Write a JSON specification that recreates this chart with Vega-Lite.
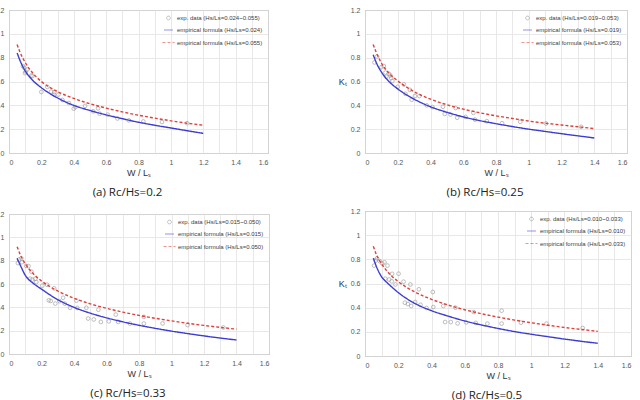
{
  "$schema": "https://vega.github.io/schema/vega-lite/v6.json",
  "padding": {"left": -7, "top": 5, "right": 4, "bottom": 4},
  "background": "white",
  "config": {
    "view": {"stroke": "#9a9a9a", "strokeWidth": 1},
    "axis": {"labelFont": "Liberation Sans", "labelFontSize": 7, "labelColor": "#555555", "titleFont": "Liberation Sans", "titleFontSize": 9, "titleFontWeight": "normal", "titleColor": "#333333", "ticks": false, "domain": false, "gridColor": "#e2e2e2", "gridWidth": 0.8, "labelPadding": 5},
    "axisX": {"titlePadding": 3},
    "axisY": {"titlePadding": 4},
    "legend": {"orient": "top-right", "offset": 5, "padding": 0, "labelFont": "Liberation Sans", "labelFontSize": 6, "labelColor": "#404040", "rowPadding": 3, "symbolSize": 144, "labelOffset": 2},
    "title": {"font": "Open Sans", "fontSize": 11.5, "fontWeight": "normal", "color": "#222222", "offset": 10},
    "point": {"size": 18, "strokeWidth": 0.8},
    "line": {"strokeWidth": 1.4, "interpolate": "monotone"}
  },
  "datasets": {
    "a_pts": [
      {"s":"exp","x":0.086,"y":0.73},{"s":"exp","x":0.093,"y":0.716},{"s":"exp","x":0.099,"y":0.67},{"s":"exp","x":0.103,"y":0.683},{"s":"exp","x":0.113,"y":0.70},{"s":"exp","x":0.138,"y":0.65},{"s":"exp","x":0.145,"y":0.645},{"s":"exp","x":0.20,"y":0.512},{"s":"exp","x":0.237,"y":0.555},{"s":"exp","x":0.26,"y":0.515},{"s":"exp","x":0.278,"y":0.49},{"s":"exp","x":0.28,"y":0.51},{"s":"exp","x":0.305,"y":0.49},{"s":"exp","x":0.33,"y":0.445},{"s":"exp","x":0.37,"y":0.42},{"s":"exp","x":0.40,"y":0.372},{"s":"exp","x":0.41,"y":0.385},{"s":"exp","x":0.47,"y":0.395},{"s":"exp","x":0.52,"y":0.35},{"s":"exp","x":0.55,"y":0.375},{"s":"exp","x":0.56,"y":0.33},{"s":"exp","x":0.61,"y":0.322},{"s":"exp","x":0.67,"y":0.29},{"s":"exp","x":0.74,"y":0.274},{"s":"exp","x":0.83,"y":0.265},{"s":"exp","x":0.945,"y":0.26},{"s":"exp","x":1.10,"y":0.25}
    ],
    "a_lines": [
      {"s":"lo","x":0.05,"y":0.84},{"s":"lo","x":0.07,"y":0.77},{"s":"lo","x":0.1,"y":0.69},{"s":"lo","x":0.15,"y":0.605},{"s":"lo","x":0.2,"y":0.548},{"s":"lo","x":0.3,"y":0.462},{"s":"lo","x":0.4,"y":0.40},{"s":"lo","x":0.5,"y":0.357},{"s":"lo","x":0.6,"y":0.32},{"s":"lo","x":0.7,"y":0.288},{"s":"lo","x":0.8,"y":0.258},{"s":"lo","x":0.9,"y":0.233},{"s":"lo","x":1.0,"y":0.21},{"s":"lo","x":1.1,"y":0.187},{"s":"lo","x":1.2,"y":0.165},
      {"s":"hi","x":0.05,"y":0.91},{"s":"hi","x":0.07,"y":0.84},{"s":"hi","x":0.1,"y":0.76},{"s":"hi","x":0.15,"y":0.665},{"s":"hi","x":0.2,"y":0.60},{"s":"hi","x":0.3,"y":0.515},{"s":"hi","x":0.4,"y":0.458},{"s":"hi","x":0.5,"y":0.413},{"s":"hi","x":0.6,"y":0.377},{"s":"hi","x":0.7,"y":0.345},{"s":"hi","x":0.8,"y":0.317},{"s":"hi","x":0.9,"y":0.293},{"s":"hi","x":1.0,"y":0.27},{"s":"hi","x":1.1,"y":0.25},{"s":"hi","x":1.2,"y":0.233}
    ],
    "b_pts": [
      {"s":"exp","x":0.058,"y":0.76},{"s":"exp","x":0.074,"y":0.81},{"s":"exp","x":0.10,"y":0.72},{"s":"exp","x":0.115,"y":0.73},{"s":"exp","x":0.125,"y":0.675},{"s":"exp","x":0.13,"y":0.64},{"s":"exp","x":0.146,"y":0.665},{"s":"exp","x":0.155,"y":0.65},{"s":"exp","x":0.16,"y":0.628},{"s":"exp","x":0.167,"y":0.605},{"s":"exp","x":0.20,"y":0.555},{"s":"exp","x":0.237,"y":0.576},{"s":"exp","x":0.247,"y":0.497},{"s":"exp","x":0.274,"y":0.53},{"s":"exp","x":0.285,"y":0.447},{"s":"exp","x":0.305,"y":0.478},{"s":"exp","x":0.332,"y":0.478},{"s":"exp","x":0.377,"y":0.40},{"s":"exp","x":0.412,"y":0.385},{"s":"exp","x":0.476,"y":0.388},{"s":"exp","x":0.487,"y":0.328},{"s":"exp","x":0.522,"y":0.323},{"s":"exp","x":0.553,"y":0.378},{"s":"exp","x":0.563,"y":0.296},{"s":"exp","x":0.614,"y":0.303},{"s":"exp","x":0.662,"y":0.337},{"s":"exp","x":0.672,"y":0.28},{"s":"exp","x":0.744,"y":0.267},{"s":"exp","x":0.837,"y":0.25},{"s":"exp","x":0.948,"y":0.262},{"s":"exp","x":1.105,"y":0.248},{"s":"exp","x":1.32,"y":0.22}
    ],
    "b_lines": [
      {"s":"lo","x":0.05,"y":0.825},{"s":"lo","x":0.07,"y":0.755},{"s":"lo","x":0.1,"y":0.68},{"s":"lo","x":0.15,"y":0.595},{"s":"lo","x":0.2,"y":0.538},{"s":"lo","x":0.3,"y":0.452},{"s":"lo","x":0.4,"y":0.388},{"s":"lo","x":0.5,"y":0.342},{"s":"lo","x":0.6,"y":0.303},{"s":"lo","x":0.7,"y":0.272},{"s":"lo","x":0.8,"y":0.246},{"s":"lo","x":0.9,"y":0.222},{"s":"lo","x":1.0,"y":0.2},{"s":"lo","x":1.1,"y":0.181},{"s":"lo","x":1.2,"y":0.162},{"s":"lo","x":1.3,"y":0.144},{"s":"lo","x":1.4,"y":0.126},
      {"s":"hi","x":0.05,"y":0.91},{"s":"hi","x":0.07,"y":0.84},{"s":"hi","x":0.1,"y":0.755},{"s":"hi","x":0.15,"y":0.665},{"s":"hi","x":0.2,"y":0.605},{"s":"hi","x":0.3,"y":0.515},{"s":"hi","x":0.4,"y":0.452},{"s":"hi","x":0.5,"y":0.405},{"s":"hi","x":0.6,"y":0.368},{"s":"hi","x":0.7,"y":0.338},{"s":"hi","x":0.8,"y":0.312},{"s":"hi","x":0.9,"y":0.29},{"s":"hi","x":1.0,"y":0.268},{"s":"hi","x":1.1,"y":0.25},{"s":"hi","x":1.2,"y":0.235},{"s":"hi","x":1.3,"y":0.22},{"s":"hi","x":1.4,"y":0.205}
    ],
    "c_pts": [
      {"s":"exp","x":0.055,"y":0.779},{"s":"exp","x":0.062,"y":0.81},{"s":"exp","x":0.076,"y":0.82},{"s":"exp","x":0.08,"y":0.787},{"s":"exp","x":0.105,"y":0.755},{"s":"exp","x":0.12,"y":0.753},{"s":"exp","x":0.138,"y":0.705},{"s":"exp","x":0.13,"y":0.645},{"s":"exp","x":0.144,"y":0.638},{"s":"exp","x":0.162,"y":0.645},{"s":"exp","x":0.168,"y":0.617},{"s":"exp","x":0.205,"y":0.585},{"s":"exp","x":0.234,"y":0.594},{"s":"exp","x":0.245,"y":0.46},{"s":"exp","x":0.257,"y":0.455},{"s":"exp","x":0.278,"y":0.563},{"s":"exp","x":0.285,"y":0.432},{"s":"exp","x":0.31,"y":0.453},{"s":"exp","x":0.333,"y":0.482},{"s":"exp","x":0.343,"y":0.432},{"s":"exp","x":0.376,"y":0.396},{"s":"exp","x":0.415,"y":0.457},{"s":"exp","x":0.42,"y":0.395},{"s":"exp","x":0.476,"y":0.396},{"s":"exp","x":0.487,"y":0.304},{"s":"exp","x":0.522,"y":0.296},{"s":"exp","x":0.55,"y":0.38},{"s":"exp","x":0.565,"y":0.275},{"s":"exp","x":0.614,"y":0.28},{"s":"exp","x":0.657,"y":0.338},{"s":"exp","x":0.672,"y":0.275},{"s":"exp","x":0.744,"y":0.261},{"s":"exp","x":0.83,"y":0.318},{"s":"exp","x":0.83,"y":0.261},{"s":"exp","x":0.945,"y":0.262},{"s":"exp","x":1.099,"y":0.248},{"s":"exp","x":1.319,"y":0.227}
    ],
    "c_lines": [
      {"s":"lo","x":0.05,"y":0.82},{"s":"lo","x":0.075,"y":0.745},{"s":"lo","x":0.1,"y":0.675},{"s":"lo","x":0.12,"y":0.64},{"s":"lo","x":0.15,"y":0.605},{"s":"lo","x":0.2,"y":0.556},{"s":"lo","x":0.3,"y":0.466},{"s":"lo","x":0.4,"y":0.4},{"s":"lo","x":0.5,"y":0.35},{"s":"lo","x":0.6,"y":0.31},{"s":"lo","x":0.7,"y":0.276},{"s":"lo","x":0.8,"y":0.246},{"s":"lo","x":0.9,"y":0.22},{"s":"lo","x":1.0,"y":0.196},{"s":"lo","x":1.1,"y":0.175},{"s":"lo","x":1.2,"y":0.155},{"s":"lo","x":1.3,"y":0.137},{"s":"lo","x":1.4,"y":0.12},
      {"s":"hi","x":0.05,"y":0.92},{"s":"hi","x":0.07,"y":0.85},{"s":"hi","x":0.1,"y":0.773},{"s":"hi","x":0.15,"y":0.687},{"s":"hi","x":0.2,"y":0.626},{"s":"hi","x":0.3,"y":0.54},{"s":"hi","x":0.4,"y":0.478},{"s":"hi","x":0.5,"y":0.43},{"s":"hi","x":0.6,"y":0.392},{"s":"hi","x":0.7,"y":0.359},{"s":"hi","x":0.8,"y":0.331},{"s":"hi","x":0.9,"y":0.306},{"s":"hi","x":1.0,"y":0.284},{"s":"hi","x":1.1,"y":0.263},{"s":"hi","x":1.2,"y":0.245},{"s":"hi","x":1.3,"y":0.228},{"s":"hi","x":1.4,"y":0.213}
    ],
    "d_pts": [
      {"s":"exp","x":0.055,"y":0.748},{"s":"exp","x":0.065,"y":0.79},{"s":"exp","x":0.072,"y":0.808},{"s":"exp","x":0.088,"y":0.785},{"s":"exp","x":0.104,"y":0.765},{"s":"exp","x":0.117,"y":0.775},{"s":"exp","x":0.135,"y":0.748},{"s":"exp","x":0.122,"y":0.64},{"s":"exp","x":0.145,"y":0.633},{"s":"exp","x":0.163,"y":0.68},{"s":"exp","x":0.161,"y":0.618},{"s":"exp","x":0.183,"y":0.592},{"s":"exp","x":0.202,"y":0.681},{"s":"exp","x":0.232,"y":0.615},{"s":"exp","x":0.273,"y":0.592},{"s":"exp","x":0.24,"y":0.441},{"s":"exp","x":0.258,"y":0.43},{"s":"exp","x":0.278,"y":0.414},{"s":"exp","x":0.302,"y":0.447},{"s":"exp","x":0.324,"y":0.552},{"s":"exp","x":0.334,"y":0.424},{"s":"exp","x":0.37,"y":0.398},{"s":"exp","x":0.408,"y":0.53},{"s":"exp","x":0.411,"y":0.405},{"s":"exp","x":0.471,"y":0.414},{"s":"exp","x":0.482,"y":0.281},{"s":"exp","x":0.516,"y":0.281},{"s":"exp","x":0.544,"y":0.40},{"s":"exp","x":0.557,"y":0.27},{"s":"exp","x":0.609,"y":0.278},{"s":"exp","x":0.654,"y":0.364},{"s":"exp","x":0.666,"y":0.274},{"s":"exp","x":0.736,"y":0.268},{"s":"exp","x":0.822,"y":0.375},{"s":"exp","x":0.822,"y":0.268},{"s":"exp","x":0.938,"y":0.276},{"s":"exp","x":1.092,"y":0.268},{"s":"exp","x":1.309,"y":0.232}
    ],
    "d_lines": [
      {"s":"lo","x":0.05,"y":0.81},{"s":"lo","x":0.075,"y":0.72},{"s":"lo","x":0.1,"y":0.655},{"s":"lo","x":0.13,"y":0.61},{"s":"lo","x":0.15,"y":0.585},{"s":"lo","x":0.2,"y":0.525},{"s":"lo","x":0.3,"y":0.435},{"s":"lo","x":0.4,"y":0.375},{"s":"lo","x":0.5,"y":0.33},{"s":"lo","x":0.6,"y":0.29},{"s":"lo","x":0.7,"y":0.257},{"s":"lo","x":0.8,"y":0.228},{"s":"lo","x":0.9,"y":0.202},{"s":"lo","x":1.0,"y":0.18},{"s":"lo","x":1.1,"y":0.16},{"s":"lo","x":1.2,"y":0.14},{"s":"lo","x":1.3,"y":0.122},{"s":"lo","x":1.4,"y":0.105},
      {"s":"hi","x":0.05,"y":0.908},{"s":"hi","x":0.07,"y":0.835},{"s":"hi","x":0.1,"y":0.763},{"s":"hi","x":0.15,"y":0.676},{"s":"hi","x":0.2,"y":0.616},{"s":"hi","x":0.3,"y":0.53},{"s":"hi","x":0.4,"y":0.469},{"s":"hi","x":0.5,"y":0.422},{"s":"hi","x":0.6,"y":0.383},{"s":"hi","x":0.7,"y":0.35},{"s":"hi","x":0.8,"y":0.322},{"s":"hi","x":0.9,"y":0.297},{"s":"hi","x":1.0,"y":0.275},{"s":"hi","x":1.1,"y":0.255},{"s":"hi","x":1.2,"y":0.236},{"s":"hi","x":1.3,"y":0.22},{"s":"hi","x":1.4,"y":0.204}
    ]
  },
  "resolve": {"scale": {"color": "independent", "strokeDash": "independent", "shape": "independent", "size": "independent"}, "legend": {"color": "independent", "shape": "independent", "size": "independent", "strokeDash": "independent"}},
  "spacing": 67,
  "hconcat": [
    {
      "spacing": 10,
      "resolve": {"scale": {"color": "independent", "strokeDash": "independent", "shape": "independent", "size": "independent"}, "legend": {"color": "independent", "shape": "independent", "size": "independent", "strokeDash": "independent"}},
      "vconcat": [
        {
          "width": 259, "height": 143,
          "title": {"text": "(a) Rc/Hs=0.2", "orient": "bottom", "dx": -11},
          "encoding": {
            "x": {"field": "x", "type": "quantitative", "scale": {"domain": [0, 1.6], "nice": false}, "axis": {"title": "W / Lₛ", "values": [0,0.1,0.2,0.3,0.4,0.5,0.6,0.7,0.8,0.9,1,1.1,1.2,1.3,1.4,1.5,1.6], "labelExpr": "round(datum.value*10)%2==0 ? format(datum.value,'~g') : ''", "labelOverlap": false}},
            "y": {"field": "y", "type": "quantitative", "scale": {"domain": [0, 1.2], "nice": false}, "axis": {"title": null, "values": [0,0.2,0.4,0.6,0.8,1,1.2], "format": "~g"}}
          },
          "layer": [
            {"data": {"name": "a_pts"}, "mark": {"type": "point", "filled": false},
             "encoding": {
               "color": {"field": "s", "type": "nominal", "scale": {"domain": ["exp","lo","hi"], "range": ["#8c8c8c","#3c3cd2","#e0403a"]},
                 "legend": {"title": null, "labelExpr": "datum.value=='exp' ? 'exp. data (Hs/Ls=0.024~0.055)' : datum.value=='lo' ? 'empirical formula (Hs/Ls=0.024)' : 'empirical formula (Hs/Ls=0.055)'"}},
               "shape": {"field": "s", "type": "nominal", "scale": {"domain": ["exp","lo","hi"], "range": ["circle","stroke","stroke"]},
                 "legend": {"title": null, "labelExpr": "datum.value=='exp' ? 'exp. data (Hs/Ls=0.024~0.055)' : datum.value=='lo' ? 'empirical formula (Hs/Ls=0.024)' : 'empirical formula (Hs/Ls=0.055)'"}},
               "size": {"field": "s", "type": "ordinal", "scale": {"domain": ["exp","lo","hi"], "range": [14,144,144]},
                 "legend": {"title": null, "labelExpr": "datum.value=='exp' ? 'exp. data (Hs/Ls=0.024~0.055)' : datum.value=='lo' ? 'empirical formula (Hs/Ls=0.024)' : 'empirical formula (Hs/Ls=0.055)'"}}
             }},
            {"data": {"name": "a_lines"}, "mark": {"type": "line"},
             "encoding": {"color": {"field": "s", "type": "nominal"},
               "strokeDash": {"field": "s", "type": "nominal", "scale": {"domain": ["exp","lo","hi"], "range": [[1,0],[1,0],[3,2]]},
                 "legend": {"title": null, "labelExpr": "datum.value=='exp' ? 'exp. data (Hs/Ls=0.024~0.055)' : datum.value=='lo' ? 'empirical formula (Hs/Ls=0.024)' : 'empirical formula (Hs/Ls=0.055)'"}}}}
          ]
        },
        {
          "width": 260, "height": 140,
          "title": {"text": "(c) Rc/Hs=0.33", "orient": "bottom", "dx": -11},
          "encoding": {
            "x": {"field": "x", "type": "quantitative", "scale": {"domain": [0, 1.6], "nice": false}, "axis": {"title": "W / Lₛ", "values": [0,0.1,0.2,0.3,0.4,0.5,0.6,0.7,0.8,0.9,1,1.1,1.2,1.3,1.4,1.5,1.6], "labelExpr": "round(datum.value*10)%2==0 ? format(datum.value,'~g') : ''", "labelOverlap": false}},
            "y": {"field": "y", "type": "quantitative", "scale": {"domain": [0, 1.2], "nice": false}, "axis": {"title": null, "values": [0,0.2,0.4,0.6,0.8,1,1.2], "format": "~g"}}
          },
          "layer": [
            {"data": {"name": "c_pts"}, "mark": {"type": "point", "filled": false},
             "encoding": {
               "color": {"field": "s", "type": "nominal", "scale": {"domain": ["exp","lo","hi"], "range": ["#8c8c8c","#3c3cd2","#e0403a"]},
                 "legend": {"title": null, "labelExpr": "datum.value=='exp' ? 'exp. data (Hs/Ls=0.015~0.050)' : datum.value=='lo' ? 'empirical formula (Hs/Ls=0.015)' : 'empirical formula (Hs/Ls=0.050)'"}},
               "shape": {"field": "s", "type": "nominal", "scale": {"domain": ["exp","lo","hi"], "range": ["circle","stroke","stroke"]},
                 "legend": {"title": null, "labelExpr": "datum.value=='exp' ? 'exp. data (Hs/Ls=0.015~0.050)' : datum.value=='lo' ? 'empirical formula (Hs/Ls=0.015)' : 'empirical formula (Hs/Ls=0.050)'"}},
               "size": {"field": "s", "type": "ordinal", "scale": {"domain": ["exp","lo","hi"], "range": [14,144,144]},
                 "legend": {"title": null, "labelExpr": "datum.value=='exp' ? 'exp. data (Hs/Ls=0.015~0.050)' : datum.value=='lo' ? 'empirical formula (Hs/Ls=0.015)' : 'empirical formula (Hs/Ls=0.050)'"}}
             }},
            {"data": {"name": "c_lines"}, "mark": {"type": "line"},
             "encoding": {"color": {"field": "s", "type": "nominal"},
               "strokeDash": {"field": "s", "type": "nominal", "scale": {"domain": ["exp","lo","hi"], "range": [[1,0],[1,0],[3,2]]},
                 "legend": {"title": null, "labelExpr": "datum.value=='exp' ? 'exp. data (Hs/Ls=0.015~0.050)' : datum.value=='lo' ? 'empirical formula (Hs/Ls=0.015)' : 'empirical formula (Hs/Ls=0.050)'"}}}}
          ]
        }
      ]
    },
    {
      "spacing": 7,
      "resolve": {"scale": {"color": "independent", "strokeDash": "independent", "shape": "independent", "size": "independent"}, "legend": {"color": "independent", "shape": "independent", "size": "independent", "strokeDash": "independent"}},
      "vconcat": [
        {
          "width": 262, "height": 143,
          "title": {"text": "(b) Rc/Hs=0.25", "orient": "bottom", "dx": -11},
          "encoding": {
            "x": {"field": "x", "type": "quantitative", "scale": {"domain": [0, 1.6], "nice": false}, "axis": {"title": "W / Lₛ", "values": [0,0.1,0.2,0.3,0.4,0.5,0.6,0.7,0.8,0.9,1,1.1,1.2,1.3,1.4,1.5,1.6], "labelExpr": "round(datum.value*10)%2==0 ? format(datum.value,'~g') : ''", "labelOverlap": false}},
            "y": {"field": "y", "type": "quantitative", "scale": {"domain": [0, 1.2], "nice": false}, "axis": {"title": "Kₜ", "titleAngle": 0, "titleAlign": "right", "titleBaseline": "middle", "values": [0,0.2,0.4,0.6,0.8,1,1.2], "format": "~g"}}
          },
          "layer": [
            {"data": {"name": "b_pts"}, "mark": {"type": "point", "filled": false},
             "encoding": {
               "color": {"field": "s", "type": "nominal", "scale": {"domain": ["exp","lo","hi"], "range": ["#8c8c8c","#3c3cd2","#e0403a"]},
                 "legend": {"title": null, "labelExpr": "datum.value=='exp' ? 'exp. data (Hs/Ls=0.019~0.053)' : datum.value=='lo' ? 'empirical formula (Hs/Ls=0.019)' : 'empirical formula (Hs/Ls=0.053)'"}},
               "shape": {"field": "s", "type": "nominal", "scale": {"domain": ["exp","lo","hi"], "range": ["circle","stroke","stroke"]},
                 "legend": {"title": null, "labelExpr": "datum.value=='exp' ? 'exp. data (Hs/Ls=0.019~0.053)' : datum.value=='lo' ? 'empirical formula (Hs/Ls=0.019)' : 'empirical formula (Hs/Ls=0.053)'"}},
               "size": {"field": "s", "type": "ordinal", "scale": {"domain": ["exp","lo","hi"], "range": [14,144,144]},
                 "legend": {"title": null, "labelExpr": "datum.value=='exp' ? 'exp. data (Hs/Ls=0.019~0.053)' : datum.value=='lo' ? 'empirical formula (Hs/Ls=0.019)' : 'empirical formula (Hs/Ls=0.053)'"}}
             }},
            {"data": {"name": "b_lines"}, "mark": {"type": "line"},
             "encoding": {"color": {"field": "s", "type": "nominal"},
               "strokeDash": {"field": "s", "type": "nominal", "scale": {"domain": ["exp","lo","hi"], "range": [[1,0],[1,0],[3,2]]},
                 "legend": {"title": null, "labelExpr": "datum.value=='exp' ? 'exp. data (Hs/Ls=0.019~0.053)' : datum.value=='lo' ? 'empirical formula (Hs/Ls=0.019)' : 'empirical formula (Hs/Ls=0.053)'"}}}}
          ]
        },
        {
          "width": 266, "height": 145,
          "title": {"text": "(d) Rc/Hs=0.5", "orient": "bottom", "dx": -11},
          "encoding": {
            "x": {"field": "x", "type": "quantitative", "scale": {"domain": [0, 1.6], "nice": false}, "axis": {"title": "W / Lₛ", "values": [0,0.1,0.2,0.3,0.4,0.5,0.6,0.7,0.8,0.9,1,1.1,1.2,1.3,1.4,1.5,1.6], "labelExpr": "round(datum.value*10)%2==0 ? format(datum.value,'~g') : ''", "labelOverlap": false}},
            "y": {"field": "y", "type": "quantitative", "scale": {"domain": [0, 1.2], "nice": false}, "axis": {"title": "Kₜ", "titleAngle": 0, "titleAlign": "right", "titleBaseline": "middle", "values": [0,0.2,0.4,0.6,0.8,1,1.2], "format": "~g"}}
          },
          "layer": [
            {"data": {"name": "d_pts"}, "mark": {"type": "point", "filled": false},
             "encoding": {
               "color": {"field": "s", "type": "nominal", "scale": {"domain": ["exp","lo","hi"], "range": ["#8c8c8c","#3c3cd2","#e0403a"]},
                 "legend": {"title": null, "labelExpr": "datum.value=='exp' ? 'exp. data (Hs/Ls=0.010~0.033)' : datum.value=='lo' ? 'empirical formula (Hs/Ls=0.010)' : 'empirical formula (Hs/Ls=0.033)'"}},
               "shape": {"field": "s", "type": "nominal", "scale": {"domain": ["exp","lo","hi"], "range": ["circle","stroke","stroke"]},
                 "legend": {"title": null, "labelExpr": "datum.value=='exp' ? 'exp. data (Hs/Ls=0.010~0.033)' : datum.value=='lo' ? 'empirical formula (Hs/Ls=0.010)' : 'empirical formula (Hs/Ls=0.033)'"}},
               "size": {"field": "s", "type": "ordinal", "scale": {"domain": ["exp","lo","hi"], "range": [14,144,144]},
                 "legend": {"title": null, "labelExpr": "datum.value=='exp' ? 'exp. data (Hs/Ls=0.010~0.033)' : datum.value=='lo' ? 'empirical formula (Hs/Ls=0.010)' : 'empirical formula (Hs/Ls=0.033)'"}}
             }},
            {"data": {"name": "d_lines"}, "mark": {"type": "line"},
             "encoding": {"color": {"field": "s", "type": "nominal"},
               "strokeDash": {"field": "s", "type": "nominal", "scale": {"domain": ["exp","lo","hi"], "range": [[1,0],[1,0],[3,2]]},
                 "legend": {"title": null, "labelExpr": "datum.value=='exp' ? 'exp. data (Hs/Ls=0.010~0.033)' : datum.value=='lo' ? 'empirical formula (Hs/Ls=0.010)' : 'empirical formula (Hs/Ls=0.033)'"}}}}
          ]
        }
      ]
    }
  ]
}
